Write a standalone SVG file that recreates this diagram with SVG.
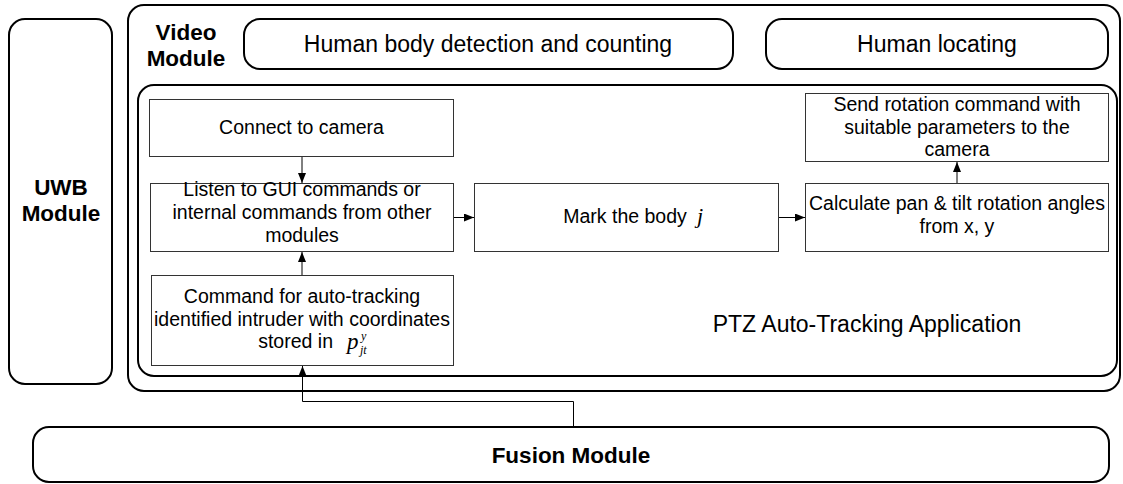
<svg xmlns="http://www.w3.org/2000/svg" width="1123" height="484" viewBox="0 0 1123 484">
  <style>
    .module { fill: none; stroke: #000; stroke-width: 2; }
    .step { fill: #fff; stroke: #333; stroke-width: 1; }
    .t { font-family: "Liberation Sans", Arial, sans-serif; font-size: 19.5px; fill: #000; text-anchor: middle; }
    .big { font-family: "Liberation Sans", Arial, sans-serif; font-size: 23px; fill: #000; text-anchor: middle; }
    .bold { font-family: "Liberation Sans", Arial, sans-serif; font-size: 22.5px; font-weight: bold; fill: #000; text-anchor: middle; }
    .math { font-family: "Liberation Serif", "Times New Roman", serif; font-style: italic; fill: #000; }
    .conn { fill: none; stroke: #000; stroke-width: 1; }
  </style>
  <defs>
    <marker id="arrow" markerUnits="userSpaceOnUse" markerWidth="10" markerHeight="8" refX="10" refY="4" orient="auto">
      <path d="M0,0 L10,4 L0,8 z" fill="#000"/>
    </marker>
  </defs>
  <rect width="1123" height="484" fill="#fff"/>

  <!-- UWB module -->
  <g id="uwb">
    <rect class="module" x="9" y="19" width="103" height="365" rx="16"/>
    <text class="bold" x="61" y="195">UWB</text>
    <text class="bold" x="61" y="221">Module</text>
  </g>

  <!-- Video module container -->
  <g id="video">
    <rect class="module" x="128" y="5" width="992" height="386" rx="16"/>
    <text class="bold" x="186" y="40">Video</text>
    <text class="bold" x="186" y="66">Module</text>
  </g>

  <g id="detection">
    <rect class="module" x="244" y="19" width="489" height="50" rx="16"/>
    <text class="big" x="488" y="52">Human body detection and counting</text>
  </g>

  <g id="locating">
    <rect class="module" x="766" y="19" width="342" height="50" rx="16"/>
    <text class="big" x="937" y="52">Human locating</text>
  </g>

  <!-- PTZ application container -->
  <g id="ptz">
    <rect class="module" x="138" y="85" width="979" height="291" rx="16"/>
    <text class="big" x="867" y="332">PTZ Auto-Tracking Application</text>
  </g>

  <g id="connect">
    <rect class="step" x="149.5" y="99.5" width="304" height="57"/>
    <text class="t" x="301.5" y="134">Connect to camera</text>
  </g>

  <g id="listen">
    <rect class="step" x="150.5" y="183.5" width="303" height="68"/>
    <text class="t" x="302" y="196">Listen to GUI commands or</text>
    <text class="t" x="302" y="219">internal commands from other</text>
    <text class="t" x="302" y="242">modules</text>
  </g>

  <g id="command">
    <rect class="step" x="151.5" y="275.5" width="302" height="90"/>
    <text class="t" x="302" y="303">Command for auto-tracking</text>
    <text class="t" x="302" y="326">identified intruder with coordinates</text>
    <text class="t" x="333" y="348" style="text-anchor:end">stored in</text>
    <text class="math" x="347" y="349" font-size="23">p</text>
    <text class="math" x="360" y="354" font-size="12">jt</text>
    <text class="math" x="361" y="340" font-size="12">y</text>
  </g>

  <g id="mark">
    <rect class="step" x="474.5" y="183.5" width="304" height="68"/>
    <text class="t" x="625" y="223">Mark the body</text>
    <text class="math" x="697" y="223" font-size="22">j</text>
  </g>

  <g id="calculate">
    <rect class="step" x="805.5" y="183.5" width="303" height="68"/>
    <text class="t" x="957" y="210">Calculate pan &amp; tilt rotation angles</text>
    <text class="t" x="957" y="233">from x, y</text>
  </g>

  <g id="send">
    <rect class="step" x="805.5" y="93.5" width="303" height="68"/>
    <text class="t" x="957" y="111">Send rotation command with</text>
    <text class="t" x="957" y="134">suitable parameters to the</text>
    <text class="t" x="957" y="156">camera</text>
  </g>

  <g id="fusion">
    <rect class="module" x="33" y="427" width="1076" height="55" rx="16"/>
    <text class="bold" x="571" y="463" font-size="23">Fusion Module</text>
  </g>

  <!-- connectors -->
  <g id="connectors">
    <line class="conn" x1="302" y1="157" x2="302" y2="183" marker-end="url(#arrow)"/>
    <line class="conn" x1="302" y1="275" x2="302" y2="252" marker-end="url(#arrow)"/>
    <line class="conn" x1="454" y1="217.5" x2="474" y2="217.5" marker-end="url(#arrow)"/>
    <line class="conn" x1="779" y1="217.5" x2="805" y2="217.5" marker-end="url(#arrow)"/>
    <line class="conn" x1="957" y1="183" x2="957" y2="162" marker-end="url(#arrow)"/>
    <polyline class="conn" points="573.5,427 573.5,401.5 302.5,401.5 302.5,366" marker-end="url(#arrow)"/>
  </g>
</svg>
